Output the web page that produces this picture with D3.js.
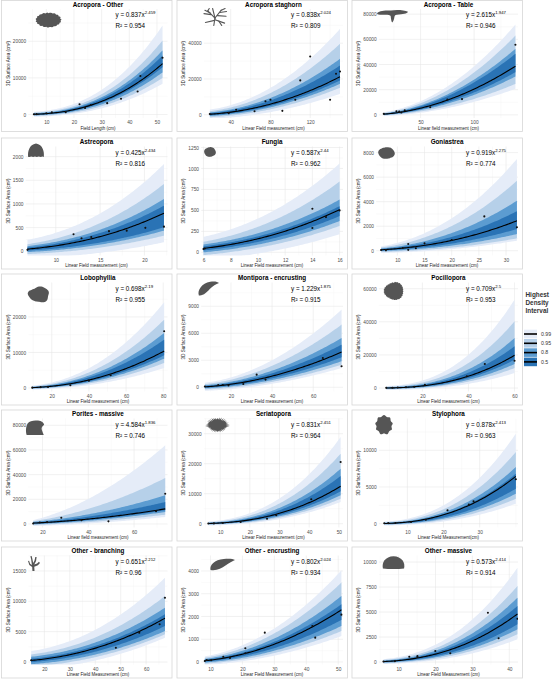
<!DOCTYPE html>
<html><head><meta charset="utf-8">
<script src="https://cdn.jsdelivr.net/npm/d3@7"></script>
<style>body{margin:0;background:#fff;}svg{display:block;font-family:"Liberation Sans",Arial,sans-serif;}</style>
</head><body><svg id="chart" width="552" height="680"></svg>
<script>
// ---------------- data ----------------
const panelTitles = ["Acropora - Other","Acropora staghorn","Acropora - Table","Astreopora","Fungia","Goniastrea","Lobophyllia","Montipora - encrusting","Pocillopora","Porites - massive","Seriatopora","Stylophora","Other - branching","Other - encrusting","Other - massive"];
const coefA = [0.837,0.838,2.615,0.425,0.587,0.919,0.698,1.229,0.709,4.584,0.831,0.878,0.651,0.802,0.573];
const expB = [2.459,2.024,1.947,2.434,2.44,2.275,2.19,1.875,2.5,1.836,2.451,2.413,2.212,2.024,2.414];
const rSquared = [0.954,0.809,0.946,0.816,0.962,0.774,0.955,0.915,0.953,0.746,0.964,0.963,0.96,0.934,0.914];
const xTitles = ["Field Length (cm)","Linear Field measurement (cm)","Linear field measurement (cm)","Linear Field measurement (cm)","Linear Field measurement (cm)","Linear Field measurement (cm)","Linear Field measurement (cm)","Linear Field measurement (cm)","Linear Field measurement (cm)","Linear field measurement (cm)","Linear Field measurement (cm)","Linear Field Measurement(cm)","Linear Field Measurement (cm)","Linear Field Measurement (cm)","Linear Field Measurement (cm)"];
const yTitle = "3D Surface Area (cm²)";
const xTicks = [[10,20,30,40,50],[40,80,120],[50,100],[10,15,20],[6,8,10,12,14,16],[10,15,20,25,30],[20,40,60,80],[20,40,60],[20,40,60],[20,40,60],[10,20,30,40,50],[10,20,30],[20,30,40,50,60],[10,20,30,40,50],[10,20,30,40]];
const yTicks = [[0,10000,20000],[0,20000,40000],[0,20000,40000,60000,80000],[0,500,1000,1500,2000],[0,250,500,750,1000,1250],[0,2000,4000,6000,8000],[0,10000,20000],[0,3000,6000,9000],[0,20000,40000,60000],[0,20000,40000,60000,80000],[0,10000,20000,30000],[0,5000,10000],[0,5000,10000,15000],[0,1000,2000,3000,4000],[0,2500,5000,7500,10000]];
const xDomains = [[3.5,53.8],[13,153],[11,141],[6.6,22.6],[5.83,16.25],[6.1,32.2],[7.4,82.3],[5.5,74.5],[1.1,61.5],[13.8,74.6],[4.5,51.4],[2.1,40.6],[13.7,68.4],[7.07,51.5],[4.65,42.35]];
const yDomains = [[-950,28800],[-1800,59100],[-2500,84100],[-90,2215],[-38,1262],[-390,8500],[-990,29700],[-470,11640],[-2100,63750],[-2840,85500],[-1270,35070],[-520,14330],[-410,17550],[-110,4680],[-250,10650]];
const samples = [
  [[5.5,80],[6.5,120],[10,350],[12,630],[17,630],[22,2800],[24,1800],[26,2600],[32,3100],[37,4300],[43,6300],[44,10500],[52,15500]],
  [[19,400],[38,900],[45.5,2800],[64,2000],[75,7600],[80,8400],[92,2200],[105,8400],[110,19200],[120,32600],[140,8400],[146,22900],[150,24200]],
  [[15.6,800],[27.4,2900],[30,2600],[32,1900],[35.2,3700],[59,6000],[75,12200],[88.7,12500],[138.6,55700]],
  [[6.8,30],[12,360],[12.9,275],[14,300],[16,425],[18,436],[20.1,495],[22.2,520]],
  [[6,40],[6.1,45],[14,520],[14,290],[15,420],[16,500]],
  [[7,60],[7.9,30],[11,220],[12,547],[12,70],[13.4,196],[15,600],[20,870],[26,2800],[32,1910]],
  [[9.5,100],[14,250],[18,300],[30,760],[40,2060],[51.7,3570],[80.5,15970]],
  [[7.3,80],[13.8,250],[16,250],[18.8,200],[26,370],[32.5,1400],[36.8,850],[64.7,3250],[73.8,2330]],
  [[4.3,100],[7,200],[9.3,300],[12.9,500],[16.4,700],[21.1,2000],[39.3,7050],[47.1,14500],[60,16500]],
  [[15.9,400],[18.8,1200],[22,1500],[28.2,5100],[37,3000],[48.8,2160],[69.6,10270],[73.6,24550]],
  [[6,50],[7.9,100],[10.9,250],[16.9,570],[25.8,1670],[28.9,2800],[40.7,8130],[50.6,20570]],
  [[3.6,50],[4.7,80],[6.7,100],[11,230],[15.1,545],[21.1,1820],[27,2590],[28.3,3040],[40,6050]],
  [[14.8,280],[48.1,2360],[57.3,4830],[65.3,6210],[67.4,10600]],
  [[8.2,44],[8.8,90],[10.2,80],[14,230],[16.1,180],[20.9,602],[20.9,382],[27,1290],[41.9,1580],[42.8,1070],[51,2080]],
  [[5.9,50],[9,80],[12.9,530],[15.1,600],[15.1,500],[19.95,1100],[24,870],[34.2,4930],[37.1,2370],[42.2,4330]]
];
const hdiLevels = ["0.99","0.95","0.8","0.5"];
// interval edges read at the largest field measurement, per level (0.99, 0.95, 0.8, 0.5)
const bandRightLo = [[8400,10000,11500,12900],[11700,15100,17300,19200],[20700,24600,30500,33900],[190,330,436,507],[216,314,373,432],[816,1010,1360,1770],[5630,7040,8260,9200],[2140,2510,2890,3330],[9060,12080,14500,17100],[5670,7540,9720,11100],[7230,8330,9470,10800],[2725,3400,4090,4770],[4000,4560,5110,5930],[1140,1360,1580,1850],[2270,2770,3270,3770]];
const bandRightHi = [[24300,20200,17500,16100],[48000,39700,31300,27500],[71800,63000,52500,48500],[1845,1423,1106,964],[1061,844,629,550],[7490,5710,4080,3220],[24140,19240,15490,13600],[8630,6960,5480,4730],[53400,40300,30200,25200],[63780,37280,23260,17830],[28900,23330,18330,15900],[12260,9770,7720,6810],[13890,10870,8950,7860],[4030,3490,2900,2535],[9430,7600,6430,5600]];
// interval half-widths read at the smallest field measurement
const bandLeftHalf = [[680,460,270,140],[2600,1700,1000,560],[1600,1000,640,320],[197,105,63,32],[138,79,47,24],[270,180,106,57],[560,370,225,113],[444,300,178,89],[1200,790,480,240],[2400,1600,970,490],[670,430,270,130],[270,180,110,55],[1540,990,610,280],[190,130,80,40],[250,170,100,50]];
const iconTypes = ["acro","staghorn","table","dome","disc","oval","lobo","crescent","fuzzy","porites","bush","stylo","branch","encrust","massive"];

// ---------------- layout / style ----------------
const bandColors = ["#e5ecf8","#b6d0e9","#5c9cd1","#2a73b5"];
const colL = [1.5,177,352], rowT = [0.5,138,274,410,547], PW = 170.5, PH = 131;
const iconBoxes = [[34,12,26,15],[26,8,24,17],[25,9,31,13],[26,5,17,14],[27,9,12,10],[26,9,17,12],[26,12,23,17],[21,7,21,15],[31,7,22,20],[24,10,19,15],[28,7,25,17],[22,5,20,20],[26,9,13,15],[33,11,25,13],[30,9,23,13]];
const FONT = "Liberation Sans, Arial, sans-serif";
const FS_TICK = 4.8, FS_AX = 4.5, FS_TITLE = 6.3, FS_EQ = 6.3;
const ICON = "#555";

const svg = d3.select("#chart");
svg.append("rect").attr("width",552).attr("height",680).attr("fill","#fff");

function radialPath(n, rf, curve){
  const pts = d3.range(n).map(k => { const a = 2*Math.PI*k/n, r = rf(a,k); return [50+50*r*Math.sin(a), 50-50*r*Math.cos(a)]; });
  return d3.line().curve(curve || d3.curveCardinalClosed)(pts);
}
function drawIcon(g, type, box){
  const [bx,by,bw,bh] = box;
  const ig = g.append("g").attr("transform",`translate(${bx},${by}) scale(${bw/100},${bh/100})`);
  const P = d => ig.append("path").attr("d",d).attr("fill",ICON);
  if(type==="acro") P(radialPath(70,(a,k)=> 0.9+0.1*Math.abs(Math.sin(k*2.3)), d3.curveLinearClosed));
  else if(type==="fuzzy") P(radialPath(64,(a,k)=> (0.86+0.1*Math.abs(Math.sin(k*1.9)))*(0.95+0.05*Math.sin(3*a)), d3.curveLinearClosed));
  else if(type==="stylo") P(radialPath(18,(a,k)=> (k%2?0.86:1.0)*(0.94+0.06*Math.cos(2*a))));
  else if(type==="lobo") P(radialPath(30,(a)=> 0.9+0.07*Math.sin(3*a)+0.04*Math.cos(5*a)));
  else if(type==="disc"||type==="oval") P(radialPath(30,(a)=> 0.97+0.03*Math.sin(4*a)));
  else if(type==="dome") P("M4,100 C0,62 10,12 50,4 C90,12 100,62 96,100 L88,96 L78,100 L66,96 L55,100 L44,96 L33,100 L22,96 L12,100 Z");
  else if(type==="massive") P("M4,96 C-2,50 14,4 50,2 C86,4 102,50 96,96 C70,102 30,102 4,96 Z");
  else if(type==="table") P("M0,30 C4,12 22,4 45,8 C62,0 88,4 100,18 C97,32 84,38 64,40 C58,42 57,48 56,60 C55,80 52,95 49,100 C46,92 45,70 44,50 C43,42 36,40 26,40 C10,42 1,40 0,30 Z");
  else if(type==="crescent") P("M4,96 C-4,60 18,16 58,5 C78,0 94,4 100,14 C86,20 70,34 56,54 C42,76 26,100 4,96 Z");
  else if(type==="encrust") P("M2,92 C-2,55 18,14 55,8 C75,4 92,6 100,16 C90,26 76,40 62,58 C46,80 24,102 2,92 Z");
  else if(type==="porites") P("M6,100 C0,76 2,40 12,22 C22,6 44,0 66,4 C86,8 96,18 98,32 C88,42 82,52 86,66 C90,80 94,92 96,100 Z");
  else if(type==="bush") P(radialPath(72,(a,k)=> (k%2?0.72:1.0)*(0.88+0.12*Math.abs(Math.sin(k*1.3)))*(Math.cos(a)<-0.3?0.85:1), d3.curveLinearClosed));
  else if(type==="branch") P("M38,100 L36,74 L14,60 L4,34 L12,32 L20,52 L34,60 L28,22 L22,2 L32,0 L38,22 L44,46 L54,30 L60,6 L70,6 L66,34 L52,56 L74,50 L88,38 L96,46 L80,62 L52,72 L54,100 Z");
  else if(type==="staghorn"){
    const segs = [[45,100,50,56],[50,56,20,14],[50,56,76,10],[50,56,40,0],[34,36,4,30],[60,42,96,46],[50,66,90,86],[48,70,10,82],[76,10,92,0],[20,14,26,0],[30,26,8,10],[70,24,98,18],[66,74,78,100]];
    segs.forEach(s => ig.append("line").attr("x1",s[0]).attr("y1",s[1]).attr("x2",s[2]).attr("y2",s[3]).attr("stroke",ICON).attr("stroke-width",1.1).attr("vector-effect","non-scaling-stroke").attr("stroke-linecap","round"));
  }
}

const fmt = d3.format("d");
panelTitles.forEach((title,i) => {
  const col = i%3, row = Math.floor(i/3);
  const g = svg.append("g").attr("transform",`translate(${colL[col]},${rowT[row]})`).attr("font-family",FONT);
  g.append("rect").attr("width",PW).attr("height",PH).attr("fill","#fff").attr("stroke","#d6d6d6").attr("stroke-width",0.8);

  const meas = g.append("text").attr("font-size",FS_TICK);
  let lw = 0;
  yTicks[i].forEach(v => { meas.text(fmt(v)); lw = Math.max(lw, meas.node().getComputedTextLength()); });
  meas.remove();
  const L = 11 + lw + 2.5, R = PW - 4.5, T = 8.5, B = 117.5;
  const x = d3.scaleLinear().domain(xDomains[i]).range([L,R]);
  const y = d3.scaleLinear().domain(yDomains[i]).range([B,T]);

  // grid
  const minor = (ticks, dom) => { const st = ticks[1]-ticks[0], out = []; for(let v = ticks[0]-st/2*Math.ceil((ticks[0]-dom[0])/(st/2)+1); v <= dom[1]; v += st/2){ if(v >= dom[0] && !ticks.some(t => Math.abs(t-v) < 1e-9)) out.push(v); } return out; };
  const grid = g.append("g");
  minor(xTicks[i], xDomains[i]).forEach(v => grid.append("line").attr("x1",x(v)).attr("x2",x(v)).attr("y1",T).attr("y2",B).attr("stroke","#f3f3f3").attr("stroke-width",0.4));
  minor(yTicks[i], yDomains[i]).forEach(v => grid.append("line").attr("y1",y(v)).attr("y2",y(v)).attr("x1",L).attr("x2",R).attr("stroke","#f3f3f3").attr("stroke-width",0.4));
  xTicks[i].forEach(v => grid.append("line").attr("x1",x(v)).attr("x2",x(v)).attr("y1",T).attr("y2",B).attr("stroke","#e6e6e6").attr("stroke-width",0.55));
  yTicks[i].forEach(v => grid.append("line").attr("y1",y(v)).attr("y2",y(v)).attr("x1",L).attr("x2",R).attr("stroke","#e6e6e6").attr("stroke-width",0.55));

  // bands + fit
  const cid = "clip"+i;
  g.append("clipPath").attr("id",cid).append("rect").attr("x",L).attr("y",T).attr("width",R-L).attr("height",B-T);
  const cg = g.append("g").attr("clip-path",`url(#${cid})`);
  const a = coefA[i], b = expB[i];
  const fit = v => a*Math.pow(v,b);
  const pts = samples[i];
  const x0 = d3.min(pts, p => p[0]), x1 = d3.max(pts, p => p[0]);
  const p0 = Math.pow(x0,b), p1 = Math.pow(x1,b), f1 = fit(x1);
  const xs = d3.range(81).map(k => x0 + (x1-x0)*k/80);
  hdiLevels.forEach((lev,k) => {
    const h = bandLeftHalf[i][k], dHi = bandRightHi[i][k]-f1, dLo = bandRightLo[i][k]-f1;
    const tt = v => (Math.pow(v,b)-p0)/(p1-p0);
    const area = d3.area().x(v => x(v))
      .y0(v => y(fit(v) - h*(1-tt(v)) + dLo*tt(v)))
      .y1(v => y(fit(v) + h*(1-tt(v)) + dHi*tt(v)));
    cg.append("path").datum(xs).attr("d",area).attr("fill",bandColors[k]);
  });
  cg.append("path").datum(xs).attr("d", d3.line().x(v => x(v)).y(v => y(fit(v)))).attr("fill","none").attr("stroke","#000").attr("stroke-width",1.1);
  cg.selectAll("circle").data(pts).join("circle").attr("cx",d => x(d[0])).attr("cy",d => y(d[1])).attr("r",1.05).attr("fill","#111");

  // axes
  const xa = g.append("g").attr("transform",`translate(0,${B})`)
    .call(d3.axisBottom(x).tickValues(xTicks[i]).tickSize(0).tickPadding(2.6).tickFormat(fmt));
  xa.select(".domain").remove();
  xa.attr("font-family",FONT).attr("font-size",FS_TICK).attr("color","#4d4d4d");
  const ya = g.append("g").attr("transform",`translate(${L},0)`)
    .call(d3.axisLeft(y).tickValues(yTicks[i]).tickSize(0).tickPadding(2.2).tickFormat(fmt));
  ya.select(".domain").remove();
  ya.attr("font-family",FONT).attr("font-size",FS_TICK).attr("color","#4d4d4d");

  g.append("text").attr("x",(L+R)/2).attr("y",129.2).attr("text-anchor","middle").attr("font-size",FS_AX).attr("fill","#1a1a1a").text(xTitles[i]);
  g.append("text").attr("transform",`translate(6.8,${(T+B)/2}) rotate(-90)`).attr("text-anchor","middle").attr("dominant-baseline","central").attr("font-size",FS_AX).attr("fill","#1a1a1a").text(yTitle);
  g.append("text").attr("x",(L+R)/2).attr("y",6.4).attr("text-anchor","middle").attr("font-size",FS_TITLE).attr("font-weight","bold").attr("fill","#000").text(title);

  const eq = g.append("text").attr("x",114).attr("y",16.5).attr("font-size",FS_EQ).attr("fill","#000");
  eq.append("tspan").text(`y = ${a}x`);
  eq.append("tspan").attr("dy",-2.6).attr("font-size",4.3).text(String(b));
  g.append("text").attr("x",114).attr("y",27.5).attr("font-size",FS_EQ).attr("fill","#000").text(`R² = ${rSquared[i]}`);

  drawIcon(g, iconTypes[i], iconBoxes[i]);
});

// legend
const lg = svg.append("g").attr("font-family",FONT);
["Highest","Density","Interval"].forEach((t,k) => lg.append("text").attr("x",525.5).attr("y",297+k*7.8).attr("font-size",6.4).attr("font-weight","bold").attr("fill","#333").text(t));
hdiLevels.forEach((lab,k) => {
  const cy = 334 + k*9.3;
  lg.append("rect").attr("x",524).attr("y",cy-4.3).attr("width",13).attr("height",8.6).attr("fill",bandColors[k]);
  lg.append("line").attr("x1",524).attr("x2",537).attr("y1",cy).attr("y2",cy).attr("stroke","#000").attr("stroke-width",1.6);
  lg.append("text").attr("x",541).attr("y",cy+1.8).attr("font-size",5.2).attr("fill","#333").text(lab);
});
</script></body></html>
